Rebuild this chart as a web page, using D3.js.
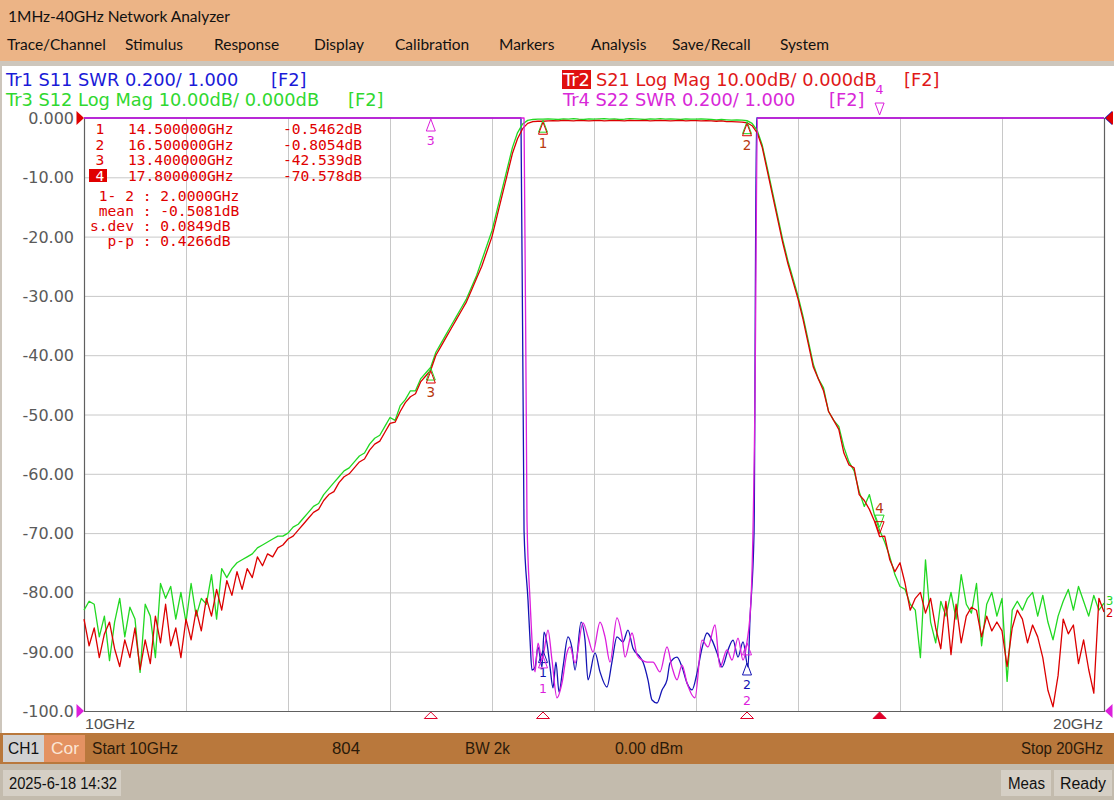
<!DOCTYPE html>
<html>
<head>
<meta charset="utf-8">
<script src="https://cdn.jsdelivr.net/npm/d3@7"></script>
<style>
  body { margin: 0; background: #fff; }
  svg { display: block; }
  text { white-space: pre; }
</style>
</head>
<body>
<div id="screen"></div>
<script>
// Sweep settings (status bar): 10 GHz .. 20 GHz, traces read every 0.05 GHz
const sweepStart = 10, sweepStop = 20, sweepStep = 0.05;

// Tr2 S21 log mag (dB), 10.00 .. 20.00 GHz
const s21Db = [
  -84.5, -89, -86, -91, -87, -85, -89.5, -92.5, -88, -91, -86, -93, -88, -92, -84, -88.5, -82, -89, -86, -91,
  -84.5, -88, -83, -86.5, -81, -84, -79.5, -83, -78, -80.5, -76.5, -79.5, -76, -77.5, -74, -75.5, -73.5, -74, -72.5, -72,
  -71, -70.5, -69.5, -68.5, -67.5, -66.5, -66, -64.5, -63.5, -63, -61.5, -60.5, -60, -59, -58, -57.5, -56, -55, -54.5, -53,
  -51.5, -51.3, -49.5, -48, -47, -46.5, -44.5, -43.5, -42.5, -40, -38.5, -37, -35.5, -34, -32.5, -31, -29, -27, -25, -22.5,
  -20, -16.5, -13, -9.5, -6, -3.5, -1.8, -0.9, -0.6, -0.55, -0.55, -0.5, -0.45, -0.5, -0.4, -0.45, -0.5, -0.4, -0.45, -0.5,
  -0.45, -0.4, -0.5, -0.45, -0.4, -0.45, -0.5, -0.4, -0.45, -0.45, -0.4, -0.5, -0.45, -0.4, -0.45, -0.5, -0.45, -0.4, -0.5, -0.45,
  -0.45, -0.5, -0.45, -0.5, -0.55, -0.5, -0.6, -0.6, -0.65, -0.7, -0.8, -1.3, -2.5, -5, -9, -13, -17, -21, -24.5, -27.5,
  -30.5, -34, -38, -42, -44, -46, -49.5, -51, -52.5, -56.5, -58.5, -59, -63.5, -64.5, -66, -68, -70.6, -70.5, -74.5, -76.5,
  -75, -78.5, -83, -81, -80, -83.5, -81, -86, -89.5, -81.5, -90.5, -82, -88.5, -84, -82.5, -83, -87.5, -84, -86.5, -85,
  -86.5, -92.5, -86, -83, -84.5, -88.5, -85.5, -87.5, -91, -96.5, -99.3, -94, -84.5, -87, -85.5, -92, -88, -93, -97, -81, -83.3
];

// Tr3 S12 log mag (dB), same frequency grid
const s12Db = [
  -83, -81.5, -82, -87.5, -84, -91.5, -85, -81, -87.5, -82.5, -84.5, -93.5, -82, -84, -91, -78.5, -81, -79, -84.5, -80,
  -85, -78.5, -84, -81, -82, -77, -84.5, -76, -77.5, -76, -75, -74.5, -74, -73.5, -72.5, -72, -71.5, -71, -70.5, -70.5,
  -70, -69, -68.5, -67.5, -66.5, -65.5, -65, -63.5, -62.5, -61.5, -60.5, -59.5, -59, -58, -57, -56.5, -55, -54, -53.5, -52,
  -50.5, -51, -48.5, -47.5, -46, -46, -44, -43, -42, -39.5, -38, -36.5, -35, -33.5, -32, -30.5, -28.5, -26.5, -24, -21.5,
  -19, -15.5, -12, -8.5, -5, -2.5, -1, -0.4, -0.25, -0.2, -0.2, -0.15, -0.2, -0.25, -0.15, -0.2, -0.1, -0.2, -0.25, -0.15,
  -0.2, -0.15, -0.1, -0.2, -0.15, -0.25, -0.2, -0.1, -0.15, -0.2, -0.25, -0.15, -0.2, -0.1, -0.2, -0.15, -0.2, -0.25, -0.15, -0.2,
  -0.2, -0.15, -0.2, -0.25, -0.3, -0.25, -0.3, -0.35, -0.3, -0.35, -0.45, -0.9, -2.1, -4.6, -8.5, -12.5, -16.5, -20.5, -24, -27,
  -30, -33.5, -37.5, -41.5, -44, -45.5, -49.5, -51, -52, -55.5, -58, -59.5, -63, -65.5, -63.5, -67, -69.5, -71.5, -74, -77,
  -79, -79.5, -82, -83, -91, -74.5, -85, -88.5, -81.5, -84, -80, -84.5, -77, -82, -83.5, -78.5, -89, -82, -80, -84,
  -81, -95, -83, -81.5, -83, -81, -80, -84, -80.5, -85, -88, -84, -81.5, -79.5, -83, -79, -81.5, -84, -80.5, -83, -81.8
];

// Tr1 S11 SWR (passband only; above 3.0 it sits on the top line)
const s11Freq = [14.284, 14.314, 14.353, 14.373, 14.392, 14.422, 14.451, 14.490, 14.510, 14.539, 14.569, 14.598, 14.627, 14.657,
  14.696, 14.745, 14.784, 14.814, 14.873, 14.912, 14.941, 15.010, 15.059, 15.127, 15.176, 15.225, 15.284, 15.333, 15.382, 15.451,
  15.480, 15.529, 15.569, 15.618, 15.667, 15.716, 15.745, 15.814, 15.863, 15.912, 15.961, 16.010, 16.059, 16.108, 16.157, 16.206,
  16.255, 16.314, 16.363, 16.412, 16.461, 16.510, 16.529, 16.569, 16.593];
const s11Swr = [3.3, 1.61, 1.374, 1.239, 1.138, 1.148, 1.216, 1.148, 1.266, 1.229, 1.148, 1.078, 1.165, 1.064,
  1.148, 1.250, 1.212, 1.138, 1.300, 1.239, 1.105, 1.196, 1.132, 1.081, 1.165, 1.250, 1.233, 1.273, 1.212, 1.182,
  1.165, 1.105, 1.037, 1.027, 1.071, 1.105, 1.162, 1.182, 1.148, 1.094, 1.071, 1.128, 1.212, 1.263, 1.239, 1.196,
  1.148, 1.206, 1.239, 1.182, 1.233, 1.148, 1.307, 1.6, 3.3];

// Tr4 S22 SWR
const s22Freq = [14.314, 14.343, 14.373, 14.422, 14.451, 14.490, 14.549, 14.588, 14.637, 14.686, 14.735, 14.765, 14.814, 14.892,
  14.941, 14.990, 15.059, 15.108, 15.157, 15.225, 15.275, 15.304, 15.373, 15.422, 15.471, 15.520, 15.578, 15.647, 15.716, 15.765,
  15.814, 15.863, 15.912, 15.990, 16.059, 16.118, 16.186, 16.235, 16.304, 16.353, 16.412, 16.461, 16.500, 16.539, 16.578, 16.603];
const s22Swr = [3.3, 1.644, 1.374, 1.132, 1.229, 1.172, 1.273, 1.172, 1.044, 1.094, 1.196, 1.216, 1.162, 1.297,
  1.250, 1.199, 1.300, 1.250, 1.165, 1.314, 1.250, 1.182, 1.263, 1.189, 1.172, 1.165, 1.165, 1.132, 1.216, 1.148,
  1.105, 1.155, 1.094, 1.044, 1.239, 1.216, 1.290, 1.148, 1.206, 1.172, 1.246, 1.172, 1.233, 1.374, 2.05, 3.3];

// Markers (marker 4 is the active one)
const markerFreqs = [14.5, 16.5, 13.4, 17.8];
const markerNames = ["1", "2", "3", "4"];
const markerFreqText = ["14.500000GHz", "16.500000GHz", "13.400000GHz", "17.800000GHz"];
const markerValueText = ["-0.5462dB", "-0.8054dB", "-42.539dB", "-70.578dB"];
const statsLines = [" 1- 2 : 2.0000GHz", " mean : -0.5081dB", "s.dev : 0.0849dB", "  p-p : 0.4266dB"];

// Axes
const xTicks = [10, 11, 12, 13, 14, 15, 16, 17, 18, 19, 20];
const yTicks = [0, -10, -20, -30, -40, -50, -60, -70, -80, -90, -100];
const yTickLabels = ["0.000", "-10.00", "-20.00", "-30.00", "-40.00", "-50.00", "-60.00", "-70.00", "-80.00", "-90.00", "-100.0"];

const menuItems = ["Trace/Channel", "Stimulus", "Response", "Display", "Calibration", "Markers", "Analysis", "Save/Recall", "System"];
const menuX = [7, 125, 214, 314, 395, 499, 591, 672, 780];

// ---------------------------------------------------------------------------
const W = 1114, H = 800;
const plot = { left: 84, right: 1104, top: 118, bottom: 711 };

const col = {
  blue: "#1414b4", blueText: "#1a1ad8",
  red: "#dc0000", redText: "#e01818",
  green: "#22d822", greenText: "#30d830",
  magenta: "#dc1edc", magentaText: "#d828d8",
  pairLabel: "#b8380e",
  grid: "#c8c8c8", frame: "#606060"
};

const svg = d3.select("#screen").append("svg")
  .attr("width", W).attr("height", H)
  .style("font-family", "'DejaVu Sans', sans-serif");

const x = d3.scaleLinear().domain([sweepStart, sweepStop]).range([plot.left, plot.right]);
const yDb = d3.scaleLinear().domain([-100, 0]).range([plot.bottom, plot.top]).clamp(true);
const ySwr = d3.scaleLinear().domain([1, 3]).range([plot.bottom, plot.top]).clamp(true);

// --- window chrome ---
svg.append("rect").attr("width", W).attr("height", H).attr("fill", "#fff");
svg.append("rect").attr("width", W).attr("height", 61).attr("fill", "#ecb486");
svg.append("rect").attr("y", 61).attr("width", W).attr("height", 5).attr("fill", "#cdc6bc");
svg.append("rect").attr("x", 0).attr("y", 66).attr("width", 2).attr("height", 668).attr("fill", "#cdc6bc");

svg.append("text").attr("x", 8).attr("y", 21.5)
  .style("font-family", "Lato, 'Open Sans', sans-serif").style("font-size", "15.5px")
  .attr("fill", "#111").text("1MHz-40GHz Network Analyzer");

svg.selectAll(".menu").data(menuItems).enter().append("text")
  .attr("class", "menu")
  .attr("x", (d, i) => menuX[i]).attr("y", 50)
  .style("font-family", "Lato, 'Open Sans', sans-serif").style("font-size", "15.5px")
  .attr("fill", "#111").text(d => d);

// --- trace header lines ---
const hdr = svg.append("g").style("font-size", "17.8px");
hdr.append("text").attr("x", 6).attr("y", 86).attr("fill", col.blueText).text("Tr1 S11 SWR 0.200/ 1.000");
hdr.append("text").attr("x", 271).attr("y", 86).attr("fill", col.blueText).text("[F2]");
hdr.append("text").attr("x", 6).attr("y", 106).attr("fill", col.greenText).text("Tr3 S12 Log Mag 10.00dB/ 0.000dB");
hdr.append("text").attr("x", 348).attr("y", 106).attr("fill", col.greenText).text("[F2]");
hdr.append("rect").attr("x", 562).attr("y", 70).attr("width", 29).attr("height", 19).attr("fill", "#e01010");
hdr.append("text").attr("x", 563).attr("y", 86).attr("fill", "#fff").text("Tr2");
hdr.append("text").attr("x", 596).attr("y", 86).attr("fill", col.redText).text("S21 Log Mag 10.00dB/ 0.000dB");
hdr.append("text").attr("x", 904).attr("y", 86).attr("fill", col.redText).text("[F2]");
hdr.append("text").attr("x", 563).attr("y", 106).attr("fill", col.magentaText).text("Tr4 S22 SWR 0.200/ 1.000");
hdr.append("text").attr("x", 829).attr("y", 106).attr("fill", col.magentaText).text("[F2]");

// --- grid ---
svg.append("g")
  .attr("transform", `translate(0,${plot.bottom})`)
  .call(d3.axisBottom(x).tickValues(xTicks.slice(1, -1)).tickSize(-(plot.bottom - plot.top)).tickFormat(""))
  .call(g => g.select(".domain").remove())
  .call(g => g.selectAll("line").attr("stroke", col.grid));

svg.append("g")
  .attr("transform", `translate(${plot.left},0)`)
  .call(d3.axisLeft(yDb).tickValues(yTicks.slice(1, -1)).tickSize(-(plot.right - plot.left)).tickFormat(""))
  .call(g => g.select(".domain").remove())
  .call(g => g.selectAll("line").attr("stroke", col.grid));

// y labels
svg.selectAll(".ylab").data(yTicks).enter().append("text")
  .attr("class", "ylab")
  .attr("x", 74).attr("y", d => yDb(d) + 6)
  .attr("text-anchor", "end")
  .style("font-size", "16px").attr("fill", "#5a5a5a")
  .text((d, i) => yTickLabels[i]);

// frame (top edge is left to the traces, as on the instrument)
svg.append("path")
  .attr("d", `M${plot.left + 0.5},${plot.top} V${plot.bottom + 0.5} H${plot.right + 0.5} V${plot.top}`)
  .attr("fill", "none").attr("stroke", col.frame).attr("stroke-width", 1.2);

// --- traces ---
const dbPts = arr => arr.map((v, i) => ({ f: sweepStart + i * sweepStep, v }));
const swrPts = (fs, vs) => [{ f: sweepStart, v: vs[0] }]
  .concat(fs.map((f, i) => ({ f, v: vs[i] })))
  .concat([{ f: sweepStop, v: vs[vs.length - 1] }]);

// label: colour of the marker numbers (S12 shares them with S21)
const traces = [
  { id: "s11", pts: swrPts(s11Freq, s11Swr), y: ySwr, color: col.blue, curve: d3.curveMonotoneX, label: col.blue, swr: true },
  { id: "s12", pts: dbPts(s12Db), y: yDb, color: col.green, curve: d3.curveLinear, label: null },
  { id: "s21", pts: dbPts(s21Db), y: yDb, color: col.red, curve: d3.curveLinear, label: col.pairLabel },
  { id: "s22", pts: swrPts(s22Freq, s22Swr), y: ySwr, color: col.magenta, curve: d3.curveMonotoneX, label: col.magenta, swr: true }
];

traces.forEach(t => {
  svg.append("path")
    .datum(t.pts)
    .attr("fill", "none")
    .attr("stroke", t.color)
    .attr("stroke-width", 1.3)
    .attr("stroke-linejoin", "round")
    .attr("d", d3.line().curve(t.curve).x(d => x(d.f)).y(d => t.y(d.v)));
});

// trace value at a marker frequency (linear between read points)
function traceValue(pts, f) {
  const i = Math.max(0, Math.min(pts.length - 2, d3.bisector(d => d.f).right(pts, f) - 1));
  const a = pts[i], b = pts[i + 1];
  const k = b.f === a.f ? 0 : (f - a.f) / (b.f - a.f);
  return a.v + k * (b.v - a.v);
}

// --- markers on traces ---
const lastLabelY = {};   // per marker: last label baseline, so SWR labels stack
traces.forEach(t => {
  markerFreqs.forEach((f, i) => {
    const v = traceValue(t.pts, f);
    // S11 sits under S22 wherever both are clipped at the top line
    if (t.id === "s11" && v >= 3) return;
    const px = x(f), py = t.y(v);
    const g = svg.append("g").attr("fill", "none").attr("stroke", t.color).attr("stroke-width", 1);
    let ly;
    if (i === 3) {
      g.append("path").attr("d", `M${px},${py - 3} L${px - 4.5},${py - 15} L${px + 4.5},${py - 15} Z`);
      ly = py - 24;
    } else {
      g.append("path").attr("d", `M${px},${py + 1} L${px - 4.5},${py + 13} L${px + 4.5},${py + 13} Z`);
      ly = py + 27;
      if (t.swr && lastLabelY[i] !== undefined && ly < lastLabelY[i] + 16) ly = lastLabelY[i] + 16;
    }
    if (!t.label) return;
    if (t.swr) lastLabelY[i] = ly;
    svg.append("text").attr("x", px).attr("y", ly).attr("text-anchor", "middle")
      .style("font-size", t.swr ? "12.5px" : "13.5px").attr("fill", t.label).text(markerNames[i]);
  });
});

// trace end labels on the right edge (log mag traces)
[{ pts: traces[1].pts, c: col.green, n: "3", dy: 2 }, { pts: traces[2].pts, c: col.red, n: "2", dy: 5 }].forEach(d => {
  svg.append("text").attr("x", plot.right + 2).attr("y", yDb(d.pts[d.pts.length - 1].v) + d.dy)
    .style("font-size", "11.5px").attr("fill", d.c).text(d.n);
});

// marker position ticks under the frequency axis
svg.selectAll(".mtick").data(markerFreqs).enter().append("path")
  .attr("class", "mtick")
  .attr("d", f => `M${x(f)},${plot.bottom + 1} L${x(f) - 6.5},${plot.bottom + 7.5} L${x(f) + 6.5},${plot.bottom + 7.5} Z`)
  .attr("fill", (f, i) => i === 3 ? "#e0002a" : "#fff")
  .attr("stroke", "#e0002a").attr("stroke-width", 1);

// reference position arrows
const arrow = (x0, y0, dir, c) => svg.append("path")
  .attr("d", `M${x0},${y0} L${x0 - dir * 7.5},${y0 - 7} L${x0 - dir * 7.5},${y0 + 7} Z`)
  .attr("fill", c);
arrow(plot.left, plot.top, 1, "#e00000");
arrow(plot.left, plot.bottom, 1, col.magenta);
arrow(plot.right + 0.5, plot.top, -1, col.blue);
arrow(plot.right + 1.5, plot.top, -1, "#e00000");
arrow(plot.right + 1, plot.bottom, -1, col.magenta);

// --- marker table ---
const mono = svg.append("g").style("font-family", "'DejaVu Sans Mono', monospace")
  .style("font-size", "14.6px").attr("fill", "#e00000");
const rowY = [134, 149.5, 165, 181];
rowY.forEach((yy, i) => {
  if (i === 3) {
    mono.append("rect").attr("x", 89).attr("y", yy - 12).attr("width", 18).attr("height", 13).attr("fill", "#e00000");
  }
  mono.append("text").attr("x", 100).attr("y", yy).attr("text-anchor", "middle")
    .attr("fill", i === 3 ? "#fff" : "#e00000").text(markerNames[i]);
  mono.append("text").attr("x", 128).attr("y", yy).text(markerFreqText[i]);
  mono.append("text").attr("x", 362).attr("y", yy).attr("text-anchor", "end").text(markerValueText[i]);
});
statsLines.forEach((s, i) => {
  mono.append("text").attr("x", 90).attr("y", 201 + i * 15).text(s);
});

// --- frequency labels ---
const narrow = "'Liberation Sans Narrow', 'Liberation Sans', sans-serif";
svg.append("text").attr("x", 85).attr("y", 729).style("font-family", narrow).style("font-size", "15px")
  .attr("fill", "#505050").attr("textLength", 50).attr("lengthAdjust", "spacingAndGlyphs").text(xTicks[0] + "GHz");
svg.append("text").attr("x", 1053).attr("y", 729).style("font-family", narrow).style("font-size", "15px")
  .attr("fill", "#505050").attr("textLength", 50).attr("lengthAdjust", "spacingAndGlyphs").text(xTicks[xTicks.length - 1] + "GHz");

// --- status bar ---
svg.append("rect").attr("x", 0).attr("y", 733).attr("width", W).attr("height", 31).attr("fill", "#b9783c");
svg.append("rect").attr("x", 3).attr("y", 735).attr("width", 41).attr("height", 27).attr("fill", "#d2d2d2");
svg.append("rect").attr("x", 44).attr("y", 735).attr("width", 41).attr("height", 27).attr("fill", "#e49262");
svg.append("rect").attr("x", 0).attr("y", 764).attr("width", W).attr("height", 36).attr("fill", "#c3bbad");
svg.append("rect").attr("x", 3).attr("y", 770).attr("width", 118).attr("height", 26).attr("fill", "#d5cfc5");
svg.append("rect").attr("x", 1001).attr("y", 770).attr("width", 50).attr("height", 26).attr("fill", "#d5cfc5");
svg.append("rect").attr("x", 1054).attr("y", 770).attr("width", 58).attr("height", 26).attr("fill", "#d5cfc5");

const status = [
  { t: "CH1", x: 8, w: 31, c: "#111", y: 754 },
  { t: "Cor", x: 51, w: 28, c: "#fbe6d6", y: 754 },
  { t: "Start 10GHz", x: 92, w: 86, c: "#2a1a0a", y: 754 },
  { t: "804", x: 332, w: 28, c: "#2a1a0a", y: 754 },
  { t: "BW 2k", x: 465, w: 45, c: "#2a1a0a", y: 754 },
  { t: "0.00 dBm", x: 615, w: 68, c: "#2a1a0a", y: 754 },
  { t: "Stop 20GHz", x: 1021, w: 82, c: "#2a1a0a", y: 754 },
  { t: "2025-6-18 14:32", x: 9, w: 108, c: "#111", y: 789 },
  { t: "Meas", x: 1008, w: 37, c: "#111", y: 789 },
  { t: "Ready", x: 1060, w: 46, c: "#111", y: 789 }
];
svg.selectAll(".status").data(status).enter().append("text")
  .attr("class", "status")
  .attr("x", d => d.x).attr("y", d => d.y)
  .style("font-family", narrow).style("font-size", "16px")
  .attr("fill", d => d.c)
  .attr("textLength", d => d.w).attr("lengthAdjust", "spacingAndGlyphs")
  .text(d => d.t);
</script>
</body>
</html>
